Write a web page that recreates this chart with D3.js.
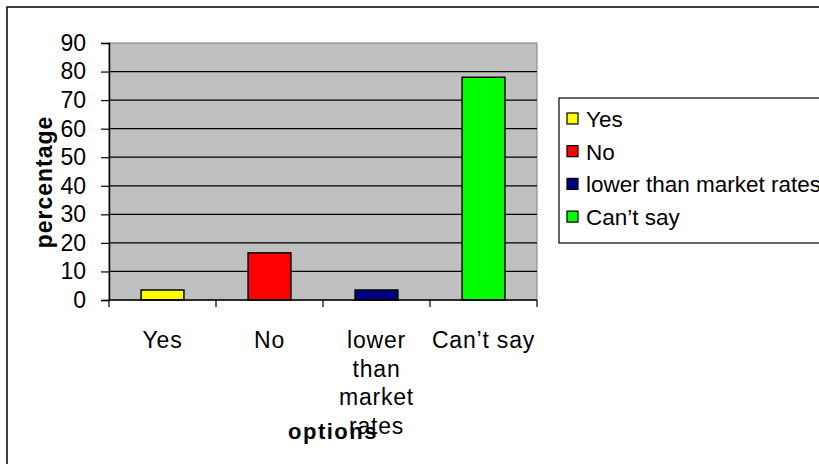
<!DOCTYPE html>
<html lang="en">
<head>
<meta charset="UTF-8">
<title>options chart</title>
<script src="https://d3js.org/d3.v7.min.js"></script>
<style>
    body { margin: 0; background: #fff; }
    svg text { font-family: "Liberation Sans", Arial, sans-serif; fill: #000; }
</style>
</head>
<body>
<svg id="chart" width="819" height="464"></svg>
<script>
    // data
    const categories = ["Yes", "No", "lower than market rates", "Can’t say"];
    const values = [3.5, 16.5, 3.5, 78];
    const colors = ["#ffff00", "#ff0000", "#000080", "#00ff00"];
    const labelLines = [["Yes"], ["No"], ["lower", "than", "market", "rates"], ["Can’t say"]];
    const yTicks = [0, 10, 20, 30, 40, 50, 60, 70, 80, 90];

    const svg = d3.select("#chart");

    // outer chart frame (runs off right and bottom)
    svg.append("rect")
        .attr("x", 7).attr("y", 7)
        .attr("width", 900).attr("height", 600)
        .attr("fill", "#fff")
        .attr("stroke", "#000").attr("stroke-width", 1.5);

    const plot = { left: 109, right: 537, top: 43, bottom: 300 };

    const x = d3.scaleBand()
        .domain(categories)
        .range([plot.left, plot.right])
        .paddingInner(0.6)
        .paddingOuter(0.3);

    const y = d3.scaleLinear()
        .domain([0, 90])
        .range([plot.bottom, plot.top]);

    // plot background
    svg.append("rect")
        .attr("x", plot.left).attr("y", plot.top)
        .attr("width", plot.right - plot.left)
        .attr("height", plot.bottom - plot.top)
        .attr("fill", "#c0c0c0")
        .attr("stroke", "#808080").attr("stroke-width", 1);

    // gridlines
    svg.append("g")
        .selectAll("line")
        .data(yTicks.filter(d => d > 0 && d < 90))
        .enter().append("line")
        .attr("x1", plot.left).attr("x2", plot.right)
        .attr("y1", d => y(d)).attr("y2", d => y(d))
        .attr("stroke", "#000").attr("stroke-width", 1.2);

    // bars
    svg.append("g")
        .selectAll("rect")
        .data(categories)
        .enter().append("rect")
        .attr("x", d => x(d))
        .attr("width", x.bandwidth())
        .attr("y", (d, i) => y(values[i]))
        .attr("height", (d, i) => y(0) - y(values[i]))
        .attr("fill", (d, i) => colors[i])
        .attr("stroke", "#000").attr("stroke-width", 1.5);

    // y axis
    const yAxis = svg.append("g")
        .attr("transform", `translate(${plot.left},0)`)
        .call(d3.axisLeft(y).tickValues(yTicks).tickSize(8).tickPadding(15));
    yAxis.select(".domain").attr("stroke", "#000").attr("stroke-width", 1.5);
    yAxis.selectAll(".tick line").attr("stroke", "#000").attr("stroke-width", 1.2);
    yAxis.selectAll(".tick text")
        .style("font-size", "23px")
        .style("font-family", "'Liberation Sans', Arial, sans-serif");

    // x axis line and boundary ticks
    svg.append("line")
        .attr("x1", plot.left).attr("x2", plot.right)
        .attr("y1", plot.bottom).attr("y2", plot.bottom)
        .attr("stroke", "#000").attr("stroke-width", 1.5);

    const bounds = categories.map(c => x(c) - x.step() * x.paddingOuter()).concat([plot.right]);
    svg.append("g")
        .selectAll("line")
        .data(bounds)
        .enter().append("line")
        .attr("x1", d => d).attr("x2", d => d)
        .attr("y1", plot.bottom).attr("y2", plot.bottom + 7)
        .attr("stroke", "#000").attr("stroke-width", 1.2);

    // category labels
    const lbl = svg.append("g")
        .selectAll("text")
        .data(categories)
        .enter().append("text")
        .attr("x", d => x(d) + x.bandwidth() / 2)
        .attr("y", 348)
        .attr("text-anchor", "middle")
        .style("font-size", "23px")
        .style("letter-spacing", "0.8px");
    lbl.selectAll("tspan")
        .data((d, i) => labelLines[i])
        .enter().append("tspan")
        .attr("x", function () { return this.parentNode.getAttribute("x"); })
        .attr("dy", (d, i) => i === 0 ? 0 : 28.5)
        .text(d => d);

    // axis titles
    svg.append("text")
        .attr("x", 333).attr("y", 439)
        .attr("text-anchor", "middle")
        .style("font-size", "22px").style("font-weight", "bold")
        .style("letter-spacing", "1.5px")
        .text("options");

    svg.append("text")
        .attr("transform", "translate(52,182) rotate(-90)")
        .attr("text-anchor", "middle")
        .style("font-size", "23px").style("font-weight", "bold")
        .style("letter-spacing", "1px")
        .text("percentage");

    // legend
    const legend = svg.append("g");
    legend.append("rect")
        .attr("x", 559).attr("y", 98)
        .attr("width", 400).attr("height", 145)
        .attr("fill", "#fff")
        .attr("stroke", "#000").attr("stroke-width", 1.2);

    const item = legend.selectAll("g.item")
        .data(categories)
        .enter().append("g")
        .attr("class", "item")
        .attr("transform", (d, i) => `translate(567,${127 + i * 32.7})`);
    item.append("rect")
        .attr("x", 0).attr("y", -14)
        .attr("width", 11).attr("height", 11)
        .attr("fill", (d, i) => colors[i])
        .attr("stroke", "#000").attr("stroke-width", 1.2);
    item.append("text")
        .attr("x", 19).attr("y", 0)
        .style("font-size", "22.5px")
        .text(d => d);
</script>
</body>
</html>
